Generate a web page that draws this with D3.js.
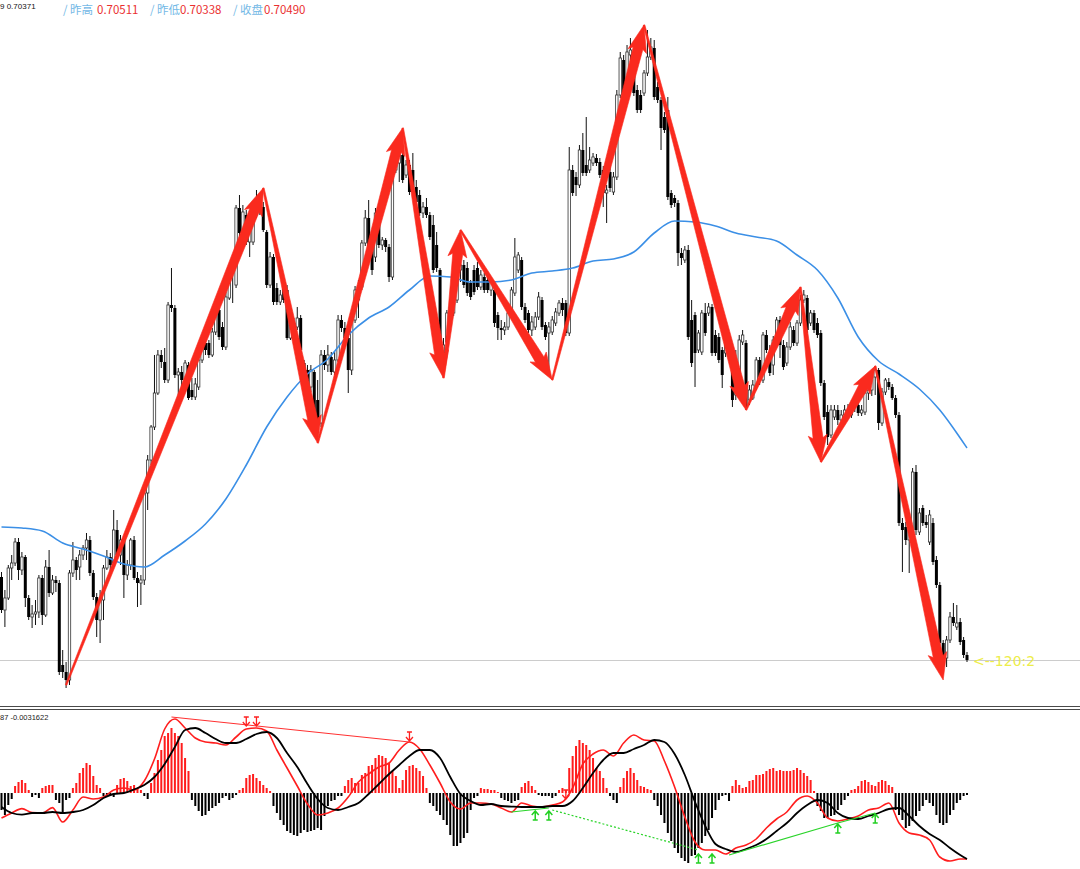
<!DOCTYPE html>
<html>
<head>
<meta charset="utf-8">
<script src="https://cdn.jsdelivr.net/npm/d3@7/dist/d3.min.js"></script>
<style>
html,body{margin:0;padding:0;background:#fff;overflow:hidden;}
svg{display:block;}
</style>
</head>
<body>
<svg id="chart" width="1080" height="869"></svg>
<script>
// ---------------- DATA ----------------
const headerLead = "9 0.70371";
const headerLabels = ["昨高", "昨低", "收盘"];
const headerValues = ["0.70511", "0.70338", "0.70490"];
const priceTag = "<--120:2";
const macdLabel = "87 -0.0031622";

const opens = [
0.70573,0.70540,0.70552,0.70582,0.70587,0.70608,0.70580,0.70593,0.70552,0.70533,
0.70536,0.70538,0.70572,0.70535,0.70583,0.70557,0.70570,0.70567,0.70485,0.70478,
0.70470,0.70577,0.70590,0.70583,0.70595,0.70602,0.70610,0.70577,0.70553,0.70530,
0.70550,0.70582,0.70593,0.70587,0.70620,0.70595,0.70610,0.70575,0.70585,0.70610,
0.70572,0.70567,0.70570,0.70657,0.70690,0.70723,0.70757,0.70795,0.70788,0.70770,
0.70845,0.70842,0.70775,0.70778,0.70770,0.70785,0.70760,0.70753,0.70763,0.70790,
0.70807,0.70807,0.70795,0.70818,0.70840,0.70823,0.70803,0.70852,0.70882,0.70865,
0.70942,0.70917,0.70935,0.70908,0.70908,0.70935,0.70947,0.70943,0.70918,0.70865,
0.70893,0.70862,0.70848,0.70867,0.70860,0.70812,0.70827,0.70823,0.70832,0.70787,
0.70780,0.70763,0.70778,0.70750,0.70727,0.70795,0.70785,0.70793,0.70778,0.70790,
0.70830,0.70822,0.70812,0.70780,0.70830,0.70850,0.70863,0.70907,0.70932,0.70903,
0.70893,0.70935,0.70905,0.70910,0.70903,0.70873,0.70980,0.70987,0.70995,0.70975,
0.70985,0.70980,0.70963,0.70955,0.70937,0.70943,0.70935,0.70925,0.70905,0.70880,
0.70797,0.70808,0.70837,0.70837,0.70850,0.70880,0.70885,0.70882,0.70867,0.70880,
0.70882,0.70863,0.70873,0.70870,0.70860,0.70860,0.70835,0.70822,0.70820,0.70823,
0.70837,0.70857,0.70880,0.70890,0.70843,0.70837,0.70820,0.70823,0.70833,0.70850,
0.70825,0.70817,0.70818,0.70827,0.70837,0.70847,0.70847,0.70817,0.70980,0.70973,
0.70965,0.71000,0.70985,0.70980,0.70987,0.70992,0.70988,0.70980,0.70957,0.70978,
0.70958,0.70973,0.71055,0.71090,0.71053,0.71095,0.71095,0.71060,0.71055,0.71057,
0.71077,0.71093,0.71102,0.71063,0.71050,0.71033,0.71040,0.70957,0.70952,0.70947,
0.70897,0.70890,0.70900,0.70830,0.70835,0.70800,0.70798,0.70837,0.70837,0.70843,
0.70815,0.70813,0.70800,0.70797,0.70810,0.70800,0.70755,0.70775,0.70808,0.70807,
0.70750,0.70752,0.70763,0.70790,0.70770,0.70815,0.70798,0.70785,0.70810,0.70830,
0.70805,0.70787,0.70803,0.70820,0.70807,0.70827,0.70850,0.70852,0.70827,0.70837,
0.70827,0.70817,0.70767,0.70738,0.70715,0.70733,0.70740,0.70730,0.70735,0.70740,
0.70735,0.70747,0.70745,0.70737,0.70738,0.70757,0.70760,0.70773,0.70780,0.70727,
0.70758,0.70768,0.70763,0.70752,0.70735,0.70627,0.70623,0.70610,0.70617,0.70678,
0.70618,0.70642,0.70628,0.70608,0.70627,0.70590,0.70565,0.70507,0.70492,0.70510,
0.70533,0.70523,0.70528,0.70510,0.70495];

const highs = [
0.70578,0.70560,0.70585,0.70595,0.70612,0.70612,0.70598,0.70595,0.70555,0.70545,
0.70550,0.70575,0.70575,0.70590,0.70600,0.70575,0.70574,0.70570,0.70500,0.70488,
0.70580,0.70608,0.70593,0.70600,0.70605,0.70617,0.70614,0.70580,0.70557,0.70560,
0.70585,0.70600,0.70597,0.70640,0.70630,0.70615,0.70612,0.70590,0.70612,0.70614,
0.70578,0.70575,0.70660,0.70695,0.70725,0.70795,0.70800,0.70800,0.70802,0.70848,
0.70882,0.70845,0.70782,0.70784,0.70790,0.70788,0.70772,0.70772,0.70793,0.70810,
0.70812,0.70810,0.70822,0.70845,0.70843,0.70828,0.70858,0.70885,0.70888,0.70945,
0.70955,0.70945,0.70940,0.70925,0.70938,0.70960,0.70952,0.70948,0.70920,0.70898,
0.70896,0.70867,0.70860,0.70872,0.70865,0.70830,0.70832,0.70843,0.70835,0.70790,
0.70785,0.70785,0.70780,0.70770,0.70800,0.70800,0.70805,0.70798,0.70798,0.70835,
0.70835,0.70828,0.70815,0.70832,0.70864,0.70870,0.70910,0.70940,0.70950,0.70906,
0.70942,0.70938,0.70913,0.70912,0.70906,0.70985,0.70992,0.71005,0.70998,0.70990,
0.70990,0.70997,0.70970,0.70960,0.70948,0.70952,0.70938,0.70935,0.70918,0.70882,
0.70812,0.70840,0.70847,0.70865,0.70884,0.70892,0.70890,0.70888,0.70870,0.70885,
0.70888,0.70880,0.70877,0.70874,0.70872,0.70863,0.70838,0.70830,0.70828,0.70840,
0.70863,0.70912,0.70898,0.70893,0.70847,0.70840,0.70834,0.70838,0.70858,0.70853,
0.70828,0.70828,0.70834,0.70842,0.70850,0.70852,0.70850,0.71003,0.70985,0.70978,
0.71005,0.71017,0.71033,0.71003,0.70997,0.70996,0.70992,0.70984,0.70965,0.70984,
0.70978,0.71060,0.71098,0.71095,0.71105,0.71112,0.71100,0.71065,0.71060,0.71080,
0.71120,0.71112,0.71110,0.71068,0.71053,0.71038,0.71053,0.70960,0.70955,0.70950,
0.70902,0.70904,0.70905,0.70850,0.70838,0.70820,0.70840,0.70847,0.70847,0.70846,
0.70820,0.70817,0.70803,0.70814,0.70814,0.70803,0.70800,0.70815,0.70820,0.70810,
0.70765,0.70770,0.70793,0.70793,0.70818,0.70820,0.70805,0.70814,0.70833,0.70834,
0.70810,0.70808,0.70828,0.70824,0.70830,0.70855,0.70860,0.70855,0.70840,0.70840,
0.70832,0.70820,0.70770,0.70745,0.70745,0.70745,0.70745,0.70740,0.70745,0.70746,
0.70750,0.70752,0.70750,0.70745,0.70762,0.70765,0.70778,0.70784,0.70782,0.70762,
0.70772,0.70772,0.70766,0.70755,0.70738,0.70632,0.70628,0.70625,0.70682,0.70685,
0.70642,0.70645,0.70635,0.70640,0.70632,0.70594,0.70568,0.70510,0.70514,0.70538,
0.70547,0.70545,0.70532,0.70513,0.70498];

const lows = [
0.70537,0.70523,0.70550,0.70570,0.70584,0.70570,0.70575,0.70543,0.70530,0.70522,
0.70525,0.70532,0.70525,0.70533,0.70553,0.70555,0.70558,0.70475,0.70472,0.70462,
0.70465,0.70573,0.70570,0.70570,0.70590,0.70590,0.70574,0.70550,0.70513,0.70507,
0.70530,0.70580,0.70578,0.70584,0.70592,0.70585,0.70552,0.70570,0.70580,0.70570,
0.70543,0.70545,0.70565,0.70640,0.70685,0.70720,0.70755,0.70782,0.70767,0.70767,
0.70838,0.70772,0.70747,0.70764,0.70758,0.70750,0.70750,0.70750,0.70760,0.70787,
0.70795,0.70792,0.70793,0.70815,0.70810,0.70800,0.70800,0.70850,0.70847,0.70862,
0.70914,0.70912,0.70905,0.70893,0.70905,0.70932,0.70935,0.70918,0.70862,0.70862,
0.70845,0.70845,0.70845,0.70847,0.70810,0.70810,0.70810,0.70820,0.70777,0.70764,
0.70760,0.70758,0.70730,0.70713,0.70723,0.70780,0.70778,0.70775,0.70775,0.70788,
0.70818,0.70808,0.70757,0.70775,0.70827,0.70832,0.70860,0.70904,0.70900,0.70875,
0.70888,0.70902,0.70900,0.70898,0.70868,0.70870,0.70977,0.70968,0.70967,0.70972,
0.70955,0.70960,0.70945,0.70934,0.70932,0.70932,0.70910,0.70877,0.70878,0.70793,
0.70788,0.70805,0.70834,0.70834,0.70847,0.70868,0.70862,0.70854,0.70850,0.70855,
0.70860,0.70860,0.70857,0.70857,0.70854,0.70823,0.70810,0.70810,0.70815,0.70820,
0.70834,0.70854,0.70877,0.70840,0.70827,0.70817,0.70814,0.70820,0.70830,0.70820,
0.70810,0.70777,0.70815,0.70824,0.70834,0.70834,0.70814,0.70814,0.70954,0.70954,
0.70962,0.70974,0.70974,0.70977,0.70984,0.70984,0.70972,0.70943,0.70927,0.70958,
0.70955,0.70970,0.71052,0.71050,0.71050,0.71088,0.71054,0.71037,0.71037,0.71054,
0.71074,0.71090,0.71050,0.71047,0.71000,0.71017,0.70950,0.70942,0.70943,0.70884,
0.70885,0.70887,0.70810,0.70783,0.70763,0.70797,0.70795,0.70814,0.70834,0.70794,
0.70794,0.70787,0.70762,0.70793,0.70797,0.70743,0.70750,0.70772,0.70805,0.70740,
0.70745,0.70750,0.70760,0.70765,0.70767,0.70797,0.70774,0.70775,0.70807,0.70792,
0.70780,0.70784,0.70800,0.70804,0.70804,0.70824,0.70847,0.70817,0.70824,0.70817,
0.70812,0.70764,0.70730,0.70705,0.70712,0.70730,0.70725,0.70726,0.70732,0.70734,
0.70732,0.70738,0.70734,0.70734,0.70735,0.70750,0.70754,0.70755,0.70720,0.70724,
0.70755,0.70760,0.70750,0.70732,0.70624,0.70578,0.70605,0.70577,0.70614,0.70615,
0.70615,0.70624,0.70622,0.70605,0.70585,0.70562,0.70504,0.70487,0.70483,0.70507,
0.70524,0.70520,0.70505,0.70492,0.70488];

const closes = [
0.70540,0.70552,0.70582,0.70587,0.70608,0.70580,0.70593,0.70552,0.70533,0.70536,
0.70538,0.70572,0.70535,0.70583,0.70557,0.70570,0.70567,0.70478,0.70478,0.70470,
0.70577,0.70590,0.70580,0.70595,0.70602,0.70610,0.70577,0.70553,0.70530,0.70550,
0.70582,0.70593,0.70585,0.70620,0.70595,0.70610,0.70575,0.70585,0.70610,0.70572,
0.70567,0.70570,0.70657,0.70690,0.70723,0.70757,0.70795,0.70788,0.70770,0.70845,
0.70842,0.70775,0.70778,0.70770,0.70787,0.70752,0.70753,0.70766,0.70790,0.70807,
0.70800,0.70795,0.70818,0.70840,0.70813,0.70803,0.70853,0.70882,0.70878,0.70942,
0.70917,0.70938,0.70908,0.70920,0.70935,0.70947,0.70940,0.70920,0.70865,0.70893,
0.70848,0.70848,0.70855,0.70850,0.70812,0.70825,0.70812,0.70832,0.70800,0.70767,
0.70763,0.70780,0.70733,0.70727,0.70795,0.70785,0.70795,0.70778,0.70790,0.70830,
0.70822,0.70812,0.70780,0.70830,0.70860,0.70863,0.70907,0.70932,0.70903,0.70880,
0.70937,0.70905,0.70910,0.70903,0.70873,0.70980,0.70987,0.70995,0.70970,0.70985,
0.70958,0.70963,0.70948,0.70937,0.70943,0.70935,0.70913,0.70880,0.70882,0.70797,
0.70805,0.70837,0.70843,0.70860,0.70880,0.70885,0.70865,0.70857,0.70853,0.70858,
0.70863,0.70875,0.70860,0.70860,0.70868,0.70827,0.70822,0.70820,0.70823,0.70837,
0.70860,0.70893,0.70895,0.70843,0.70830,0.70820,0.70828,0.70833,0.70853,0.70823,
0.70813,0.70823,0.70830,0.70838,0.70847,0.70840,0.70817,0.70980,0.70957,0.70965,
0.71000,0.70977,0.70977,0.70990,0.70993,0.70987,0.70975,0.70957,0.70960,0.70962,
0.70973,0.71055,0.71092,0.71053,0.71098,0.71100,0.71057,0.71040,0.71040,0.71077,
0.71093,0.71103,0.71053,0.71050,0.71022,0.71020,0.70953,0.70945,0.70947,0.70897,
0.70892,0.70900,0.70813,0.70787,0.70797,0.70817,0.70837,0.70817,0.70843,0.70797,
0.70797,0.70790,0.70775,0.70810,0.70800,0.70750,0.70775,0.70810,0.70815,0.70743,
0.70760,0.70765,0.70790,0.70773,0.70815,0.70800,0.70777,0.70810,0.70830,0.70805,
0.70783,0.70803,0.70823,0.70807,0.70827,0.70850,0.70855,0.70820,0.70837,0.70820,
0.70815,0.70767,0.70733,0.70713,0.70740,0.70740,0.70730,0.70735,0.70740,0.70738,
0.70747,0.70744,0.70737,0.70740,0.70757,0.70760,0.70773,0.70780,0.70727,0.70758,
0.70770,0.70763,0.70752,0.70735,0.70627,0.70620,0.70610,0.70620,0.70678,0.70620,
0.70637,0.70627,0.70625,0.70635,0.70588,0.70565,0.70507,0.70490,0.70510,0.70533,
0.70527,0.70527,0.70508,0.70495,0.70490];

// moving average, sampled every maStep bars
const maStep = 6;
const maValues = [
0.70623,0.70622,0.70619,0.70607,0.70601,0.70594,0.70586,0.70583,0.70595,0.70609,
0.70626,0.70651,0.70685,0.70723,0.70753,0.70776,0.70791,0.70815,0.70832,0.70843,
0.70860,0.70874,0.70873,0.70868,0.70868,0.70870,0.70877,0.70879,0.70882,0.70889,
0.70891,0.70898,0.70917,0.70929,0.70928,0.70924,0.70917,0.70913,0.70909,0.70895,
0.70880,0.70852,0.70813,0.70789,0.70776,0.70761,0.70740,0.70712,0.70702];

// zigzag pivots (bar index, price)
const zigzagIndex = [19, 77, 93, 118, 130, 135, 162, 189, 219, 235, 241, 257, 277];
const zigzagPrice = [0.70465, 0.70962, 0.70707, 0.71022, 0.70772, 0.70920, 0.70770, 0.71125, 0.70740, 0.70863, 0.70688, 0.70784, 0.70470];

// MACD histogram, one value per bar
const histogram = [
-0.00085,-0.0011,-0.0006,-0.0003,
0.00035,0.00055,0.00065,0.0005,0.00015,
-0.0002,-0.0001,-0.00025,
0.00025,0.00035,0.0004,0.0004,
-0.00035,-0.0005,-0.001,-0.00035,-0.00025,
0.00025,0.0005,0.001,0.00125,0.0015,0.0014,0.00085,0.0004,0.00025,
-0.00015,-0.0001,-0.0001,-0.0002,
0.0004,0.0007,0.00075,0.0006,0.00035,0.0004,0.00025,0.00015,
-0.00015,-0.0003,
0.0005,0.001,0.00165,0.00215,0.00285,0.003,0.00325,0.003,0.00285,0.0025,0.00175,0.0011,
-0.00035,-0.00065,-0.0009,-0.00115,-0.0011,-0.0009,-0.00075,-0.00065,-0.0005,-0.00025,-0.00015,-0.00035,-0.00025,-0.0001,
0.00015,0.00025,0.00075,0.0009,0.00095,0.00075,0.0006,0.0004,0.00025,0.0001,
-0.00065,-0.001,-0.00135,-0.0016,-0.0019,-0.002,-0.0021,-0.00215,-0.002,-0.00185,-0.00195,-0.0019,-0.00185,-0.00175,-0.00185,-0.00115,-0.00065,-0.0004,-0.00035,-0.00015,-0.00015,
0.00035,0.00065,0.00075,0.0005,0.0005,0.0009,0.001,0.00135,
0.0014,0.00175,0.0019,0.00185,0.00175,0.0015,0.0011,0.00085,0.00025,0.00065,0.00115,0.00135,0.0014,0.00125,0.0011,0.00085,0.00025,
-0.0005,-0.00065,-0.0009,-0.0011,-0.00135,-0.0016,-0.0021,-0.00265,-0.00265,-0.0025,-0.00225,-0.002,-0.00085,
-0.00025,-0.00015,
0.00025,0.0002,0.0002,0.00015,0.00015,0.00005,
-0.00025,-0.00035,-0.0004,-0.0005,-0.0004,-0.00035,
0.0003,0.0005,0.0006,0.00035,0.00015,
-0.0001,-0.00015,-0.00015,-0.00015,-0.00025,-0.00015,
0.00015,0.00025,0.00015,
0.00125,0.00185,0.00235,0.00265,0.0025,0.0024,0.00215,0.00175,0.00125,0.0011,0.00075,0.00025,
-0.00015,-0.00035,-0.0005,
0.0003,0.00075,0.0011,0.00125,0.001,0.00065,0.00035,0.0003,0.0002,0.00015,
-0.00035,-0.00065,-0.0011,-0.0015,-0.002,-0.0024,-0.00275,-0.003,-0.00325,-0.0034,-0.0035,-0.00315,-0.0031,-0.00275,-0.0025,-0.00215,-0.00185,-0.00125,-0.00085,-0.00035,
-0.00015,-0.0001,-0.0004,
0.00035,0.00065,0.0004,0.00025,0.0003,0.0006,0.00065,0.0009,0.0009,0.00095,0.0011,0.0012,0.00125,0.0011,0.00115,0.0011,0.0011,0.0011,0.00115,0.00125,0.00115,0.001,0.00085,0.00065,0.0001,
-0.00065,-0.0009,-0.00125,-0.00125,-0.00115,-0.0011,-0.00085,-0.0006,-0.00035,-0.00015,
0.00015,0.0002,0.00035,0.0006,0.00065,0.00055,0.0004,0.00035,0.00055,0.00065,0.0006,0.0004,0.0003,
-0.00085,-0.0011,-0.00135,-0.00175,-0.00165,-0.0014,-0.00115,-0.0009,-0.00065,-0.00035,-0.0005,-0.00065,-0.0011,-0.0015,-0.0016,-0.0015,-0.0011,-0.00085,-0.0005,-0.00035,-0.00015,-0.0001];

// MACD lines, sampled every lineStep bars
const lineStep = 3;
const macdMain = [
-0.00125,-0.00100,-0.00078,-0.00098,-0.00100,-0.00073,-0.00145,-0.00085,-0.00020,-0.00030,
-0.00020,0.00015,0.00025,0.00015,0.00060,0.00170,0.00320,0.00370,0.00325,0.00275,
0.00255,0.00250,0.00240,0.00280,0.00320,0.00325,0.00310,0.00215,0.00125,0.00035,
-0.00055,-0.00110,-0.00100,-0.00075,-0.00020,0.00055,0.00095,0.00130,0.00150,0.00215,
0.00255,0.00220,0.00140,0.00050,-0.00045,-0.00080,-0.00050,-0.00050,-0.00055,-0.00075,
-0.00095,-0.00050,-0.00065,-0.00070,-0.00060,-0.00045,0.00025,0.00145,0.00195,0.00215,
0.00185,0.00250,0.00290,0.00265,0.00260,0.00160,0.00030,-0.00120,-0.00245,-0.00285,
-0.00285,-0.00305,-0.00275,-0.00260,-0.00230,-0.00175,-0.00130,-0.00095,-0.00035,-0.00015,
-0.00050,-0.00125,-0.00140,-0.00130,-0.00115,-0.00085,-0.00075,-0.00050,-0.00150,-0.00200,
-0.00210,-0.00235,-0.00320,-0.00340,-0.00330,-0.00330];
const macdSignal = [
-0.00070,-0.00100,-0.00108,-0.00100,-0.00100,-0.00095,-0.00100,-0.00095,-0.00085,-0.00060,
-0.00025,-0.00005,0.00000,0.00018,0.00040,0.00080,0.00145,0.00230,0.00315,0.00325,
0.00300,0.00270,0.00250,0.00250,0.00270,0.00295,0.00305,0.00275,0.00200,0.00130,
0.00045,-0.00030,-0.00075,-0.00085,-0.00070,-0.00050,-0.00005,0.00045,0.00095,0.00140,
0.00185,0.00215,0.00215,0.00175,0.00080,-0.00005,-0.00040,-0.00060,-0.00055,-0.00065,
-0.00068,-0.00070,-0.00070,-0.00070,-0.00065,-0.00065,-0.00040,0.00025,0.00100,0.00165,
0.00200,0.00200,0.00220,0.00240,0.00265,0.00255,0.00195,0.00090,-0.00045,-0.00165,
-0.00255,-0.00280,-0.00295,-0.00280,-0.00260,-0.00230,-0.00190,-0.00150,-0.00100,-0.00060,
-0.00035,-0.00050,-0.00100,-0.00125,-0.00130,-0.00115,-0.00100,-0.00080,-0.00075,-0.00115,
-0.00165,-0.00205,-0.00235,-0.00275,-0.00310,-0.00330];

// divergence annotations in the MACD pane
const bearDivIndex = [50, 120];
const bearDivValue = [0.0038, 0.00255];
const bearMarkIndex = [72, 75, 120, 166];
const bearMarkValue = [0.0033, 0.0033, 0.00255, -0.00035];
const bullLine1Index = [150, 161];
const bullLine1Value = [-0.00095, -0.00075];
const bullDotIndex = [162, 205];
const bullDotValue = [-0.00085, -0.00285];
const bullLine2Index = [214, 246, 257];
const bullLine2Value = [-0.0031, -0.0015, -0.0010];
const bullMarkIndex = [157, 161, 205, 209, 246, 257];
const bullMarkValue = [-0.00085, -0.00085, -0.0030, -0.0030, -0.0015, -0.0010];

// ---------------- DRAW ----------------
const svg = d3.select("#chart");
const n = closes.length;
const x = d3.scaleLinear().domain([0, n - 1]).range([1.5, 967]);
const yP = d3.scaleLinear().domain([0.70460, 0.71125]).range([690, 25]);
const yM = d3.scaleLinear().domain([-0.0035, 0.0038]).range([863, 717]);
const bars = d3.range(n);

// header
const hdr = svg.append("g");
hdr.append("text").attr("x", 0).attr("y", 9)
  .attr("font-family", "Liberation Sans, Arial, sans-serif").attr("font-size", 8)
  .attr("fill", "#111").text(headerLead);
const labelX = [63, 150, 233], valueX = [97, 180, 264];
headerLabels.forEach((lab, i) => {
  hdr.append("text").attr("x", labelX[i]).attr("y", 13.5)
    .attr("font-family", "Noto Sans CJK SC, sans-serif").attr("font-size", 11.5)
    .attr("fill", "#74b9e6").text("/ " + lab);
  hdr.append("text").attr("x", valueX[i]).attr("y", 13.5)
    .attr("font-family", "Noto Sans CJK SC, sans-serif").attr("font-size", 11.5)
    .attr("fill", "#ea2f2f").text(headerValues[i]);
});

// current price line
const lastClose = closes[n - 1];
const lastY = Math.round(yP(lastClose)) + 0.5;
svg.append("line").attr("x1", 0).attr("x2", 1080).attr("y1", lastY).attr("y2", lastY)
  .attr("stroke", "#cccccc").attr("stroke-width", 1);

// candles
const cg = svg.append("g");
cg.selectAll("line.wick").data(bars).join("line").attr("class", "wick")
  .attr("x1", i => x(i)).attr("x2", i => x(i))
  .attr("y1", i => yP(highs[i])).attr("y2", i => yP(lows[i]))
  .attr("stroke", "#111").attr("stroke-width", 1);
cg.selectAll("rect.body").data(bars).join("rect").attr("class", "body")
  .attr("x", i => x(i) - (closes[i] >= opens[i] ? 1.2 : 1.5))
  .attr("width", i => closes[i] >= opens[i] ? 2.4 : 3)
  .attr("y", i => yP(Math.max(opens[i], closes[i])))
  .attr("height", i => Math.max(1, Math.abs(yP(opens[i]) - yP(closes[i]))))
  .attr("fill", i => closes[i] >= opens[i] ? "#ffffff" : "#000000")
  .attr("stroke", i => closes[i] >= opens[i] ? "#333" : "none")
  .attr("stroke-width", 0.8);

// moving average
const maLine = d3.line()
  .x((d, k) => x(Math.min(k * maStep, n - 1)))
  .y(d => yP(d))
  .curve(d3.curveMonotoneX);
svg.append("path").attr("d", maLine(maValues)).attr("fill", "none")
  .attr("stroke", "#3b8fe6").attr("stroke-width", 1.6);

// zigzag arrows
function arrowPath(x0, y0, x1, y1) {
  const dx = x1 - x0, dy = y1 - y0, L = Math.hypot(dx, dy);
  const ux = dx / L, uy = dy / L, nx = -uy, ny = ux;
  const headL = 24, headW = 9.5, w0 = 0.8, w1 = 5;
  const bx = x1 - ux * headL, by = y1 - uy * headL;
  const sx = bx - ux * 3, sy = by - uy * 3;
  const pts = [
    [x0 + nx * w0, y0 + ny * w0],
    [bx + nx * w1, by + ny * w1],
    [sx + nx * headW, sy + ny * headW],
    [x1, y1],
    [sx - nx * headW, sy - ny * headW],
    [bx - nx * w1, by - ny * w1],
    [x0 - nx * w0, y0 - ny * w0]
  ];
  return "M" + pts.map(p => p[0].toFixed(2) + "," + p[1].toFixed(2)).join("L") + "Z";
}
const zg = svg.append("g");
for (let k = 0; k < zigzagIndex.length - 1; k++) {
  zg.append("path")
    .attr("d", arrowPath(x(zigzagIndex[k]), yP(zigzagPrice[k]), x(zigzagIndex[k + 1]), yP(zigzagPrice[k + 1])))
    .attr("fill", "#fa2a1e").attr("stroke", "#fa2a1e").attr("stroke-width", 0.6)
    .attr("stroke-linejoin", "round");
}

// price tag
svg.append("text").attr("x", x(n - 1) + 6).attr("y", lastY + 5)
  .attr("font-family", "DejaVu Sans, sans-serif").attr("font-size", 14)
  .attr("fill", "#eded4a").text(priceTag);

// pane separator
[706.5, 709.5].forEach(yy => {
  svg.append("line").attr("x1", 0).attr("x2", 1080).attr("y1", yy).attr("y2", yy)
    .attr("stroke", "#4a4a4a").attr("stroke-width", 1);
});

// MACD pane
svg.append("text").attr("x", 0).attr("y", 720)
  .attr("font-family", "Liberation Sans, Arial, sans-serif").attr("font-size", 7.5)
  .attr("fill", "#222").text(macdLabel);

const mg = svg.append("g");
mg.selectAll("rect.hist").data(bars).join("rect").attr("class", "hist")
  .attr("x", i => x(i) - 1)
  .attr("width", 2)
  .attr("y", i => Math.min(yM(histogram[i]), yM(0)))
  .attr("height", i => Math.max(0.5, Math.abs(yM(histogram[i]) - yM(0))))
  .attr("fill", i => histogram[i] > 0 ? "#ff1c1c" : "#000");

const mLine = d3.line()
  .x((d, k) => x(Math.min(k * lineStep, n - 1)))
  .y(d => yM(d))
  .curve(d3.curveMonotoneX);
mg.append("path").attr("d", mLine(macdMain)).attr("fill", "none")
  .attr("stroke", "#ff1e1e").attr("stroke-width", 1.6);
mg.append("path").attr("d", mLine(macdSignal)).attr("fill", "none")
  .attr("stroke", "#000").attr("stroke-width", 1.8);

const pl = d3.line().x(d => x(d[0])).y(d => yM(d[1]));
mg.append("path").attr("d", pl(d3.zip(bearDivIndex, bearDivValue))).attr("fill", "none")
  .attr("stroke", "#ff3030").attr("stroke-width", 1);
mg.append("path").attr("d", pl(d3.zip(bullLine1Index, bullLine1Value))).attr("fill", "none")
  .attr("stroke", "#2ad42a").attr("stroke-width", 1.2);
mg.append("path").attr("d", pl(d3.zip(bullDotIndex, bullDotValue))).attr("fill", "none")
  .attr("stroke", "#2ad42a").attr("stroke-width", 1.2).attr("stroke-dasharray", "2,2");
mg.append("path").attr("d", pl(d3.zip(bullLine2Index, bullLine2Value))).attr("fill", "none")
  .attr("stroke", "#2ad42a").attr("stroke-width", 1.2);

bearMarkIndex.forEach((bi, k) => {
  const cx = x(bi), cy = yM(bearMarkValue[k]) - 1;
  mg.append("path")
    .attr("d", `M${cx},${cy - 9}L${cx},${cy}M${cx - 3.5},${cy - 4}L${cx},${cy}L${cx + 3.5},${cy - 4}M${cx - 2.5},${cy - 9}L${cx + 2.5},${cy - 9}`)
    .attr("fill", "none").attr("stroke", "#ff2020").attr("stroke-width", 1.3);
});
bullMarkIndex.forEach((bi, k) => {
  const cx = x(bi), cy = yM(bullMarkValue[k]) + 1;
  mg.append("path")
    .attr("d", `M${cx},${cy + 9}L${cx},${cy}M${cx - 3.5},${cy + 4}L${cx},${cy}L${cx + 3.5},${cy + 4}M${cx - 2.5},${cy + 9}L${cx + 2.5},${cy + 9}`)
    .attr("fill", "none").attr("stroke", "#22d022").attr("stroke-width", 1.5);
});
</script>
</body>
</html>
